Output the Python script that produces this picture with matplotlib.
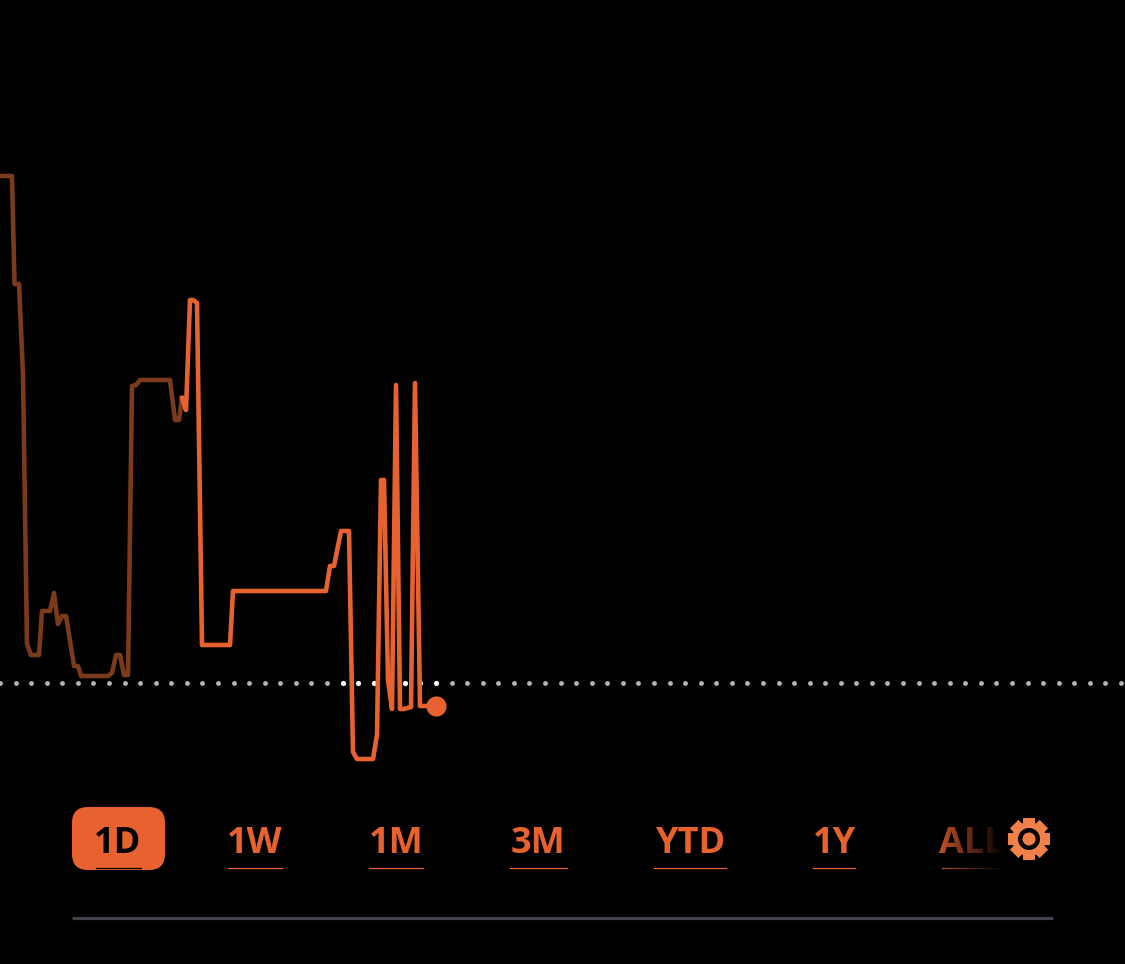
import numpy as np
import matplotlib
matplotlib.use("Agg")
import matplotlib.pyplot as plt
from matplotlib.patches import FancyBboxPatch, Circle, Rectangle
from matplotlib.transforms import Affine2D

# line (x position, y level, same units as the screen)
old_x = [0, 12, 14.5, 19, 23, 27, 31, 39, 42, 50, 54, 58, 62, 66, 74, 78, 81, 108, 112, 116, 120, 124, 128, 132, 136, 140, 170, 175, 179, 182]
old_y = [176, 176, 284, 284, 375, 644, 655, 655, 611, 611, 593, 624, 616, 616, 666, 666, 676, 676, 673, 655, 655, 675, 675, 386, 385, 380, 380, 420, 420, 398]
new_x = [182, 186, 190, 193, 197, 202, 230, 233, 326, 330, 334, 341, 349, 353, 357, 373, 377, 381, 384, 388, 392, 396, 400, 404, 411, 415, 420, 436]
new_y = [398, 410, 300, 300, 303, 645, 645, 591, 591, 566, 566, 531, 531, 752, 759, 759, 735, 480, 480, 680, 709, 385, 709, 709, 707, 383, 706, 706]

ref_level = 683

labels = ["1D", "1W", "1M", "3M", "YTD", "1Y", "ALL"]
label_x = [118, 255, 396, 538, 690, 834, 972]
under_start = [96, 228, 369, 510, 654, 813, 942]
under_end = [141, 282, 423, 567, 726, 855, 1000]

ORANGE = "#e8622f"
DIM = "#7a3a1c"

plt.rcParams["font.family"] = ["Open Sans", "DejaVu Sans"]

fig = plt.figure(figsize=(11.25, 9.64), dpi=100, facecolor="black")
ax = fig.add_axes([0, 0, 1, 1])
ax.set_facecolor("black")
ax.set_xlim(0, 1125)
ax.set_ylim(964, 0)
ax.axis("off")

# dotted reference line, brighter near the end of the line
dots = np.arange(0, 1125, 15.57)
bright = (dots > 335) & (dots < 445)
ax.scatter(dots[~bright], [ref_level] * (~bright).sum(), s=12, color="#b4b4b4", linewidths=0, zorder=1)
ax.scatter(dots[bright], [ref_level] * bright.sum(), s=14, color="white", linewidths=0, zorder=1)

ax.plot(old_x, old_y, color=DIM, lw=3.3, solid_joinstyle="round", zorder=2)
ax.plot(new_x, new_y, color=ORANGE, lw=3.3, solid_joinstyle="round", zorder=3)
ax.scatter(new_x[-1], new_y[-1], s=210, color=ORANGE, linewidths=0, zorder=4)

# selected range button
ax.add_patch(FancyBboxPatch((88, 823), 61, 31, boxstyle="round,pad=16,rounding_size=16", lw=0, zorder=2,
                            facecolor=ORANGE))

for i, lab in enumerate(labels):
    col = "black" if i == 0 else ORANGE
    ax.text(label_x[i], 853, lab, color=col, fontsize=26, fontweight="bold",
            ha="center", va="baseline", zorder=5)
    ax.plot([under_start[i], under_end[i]], [868, 868], color=col, lw=0.9, zorder=5)

# ALL fades out under the settings icon
fade = np.zeros((2, 64, 4))
fade[:, :, 3] = np.linspace(0.2, 1, 64)
ax.imshow(fade, extent=(940, 1004, 875, 820), aspect="auto", zorder=6, interpolation="bilinear")
ax.set_xlim(0, 1125)
ax.set_ylim(964, 0)

# settings icon
GEAR = "#ef8149"
cx, cy = 1029, 839
for k in range(8):
    tooth = Rectangle((cx - 6, cy - 21), 12, 10, facecolor=GEAR, lw=0, zorder=7,
                      transform=Affine2D().rotate_deg_around(cx, cy, 45 * k) + ax.transData)
    ax.add_patch(tooth)
ax.add_patch(Circle((cx, cy), 17, facecolor=GEAR, lw=0, zorder=7))
ax.add_patch(Circle((cx, cy), 11, facecolor="black", lw=0, zorder=8))
ax.add_patch(Circle((cx, cy), 6.5, facecolor=GEAR, lw=0, zorder=9))

ax.plot([72, 1053], [918, 918], color="#3f4249", lw=2.3, solid_capstyle="butt", zorder=2)

fig.savefig("out.png", dpi=100, facecolor="black")
